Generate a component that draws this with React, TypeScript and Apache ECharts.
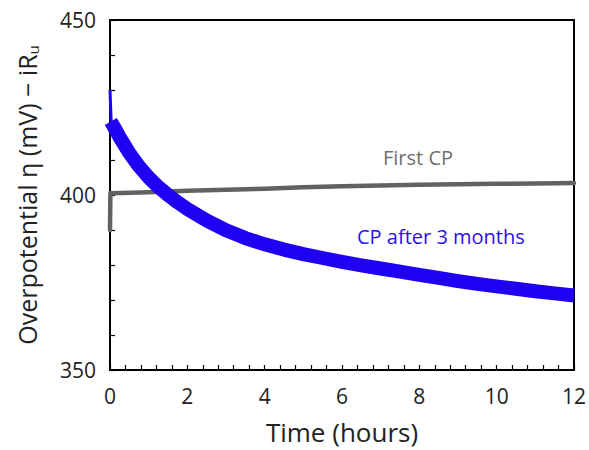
import React, { useEffect, useRef } from "react";
import * as echarts from "echarts";

const xTitle = "Time (hours)";
const yTitleMain = "Overpotential η (mV) − iR";
const yTitleSub = "u";

const firstCpTime = [0, 0.01, 0.3, 1, 2, 3, 4, 5, 6, 7, 8, 9, 10, 11, 12];
const firstCpValues = [390, 400.5, 400.6, 400.8, 401.2, 401.5, 401.8, 402.2, 402.5, 402.7, 402.9, 403.1, 403.2, 403.3, 403.4];

const spikeTime = [0, 0.03];
const spikeValues = [430, 421];

const afterTime = [0.02, 0.1, 0.25, 0.5, 0.75, 1, 1.25, 1.5, 1.75, 2, 2.5, 3, 3.5, 4, 4.5, 5, 5.5, 6, 6.5, 7, 7.5, 8, 8.5, 9, 9.5, 10, 10.5, 11, 11.5, 12];
const afterValues = [421, 419.5, 416.5, 412, 408.2, 405, 402.3, 400, 397.9, 396, 392.7, 389.9, 387.7, 385.9, 384.4, 383.1, 382, 380.9, 379.9, 379, 378.1, 377.2, 376.3, 375.4, 374.6, 373.9, 373.2, 372.5, 371.9, 371.3];

const seriesNames = ["First CP", "CP after 3 months"];
const seriesColors = ["#626262", "#1f00f2"];
const labelColors = ["#6f6f6f", "#2a10f0"];

const FONT = "'Open Sans', sans-serif";

export default function App() {
  const ref = useRef<HTMLDivElement>(null);
  useEffect(() => {
    if (!ref.current) return;
    const chart = echarts.init(ref.current, null, { renderer: "svg" });
    const isMultiple = (v: number, m: number) => Math.abs(v / m - Math.round(v / m)) < 1e-6;
    chart.setOption({
      animation: false,
      backgroundColor: "#ffffff",
      textStyle: { fontFamily: FONT },
      grid: {
        left: 110,
        top: 20,
        right: 15,
        bottom: 76,
        show: true,
        borderColor: "#000",
        borderWidth: 2,
        backgroundColor: "transparent",
      },
      xAxis: {
        type: "value",
        min: 0,
        max: 12,
        interval: 0.4,
        name: xTitle,
        nameLocation: "middle",
        nameGap: 49,
        nameTextStyle: { fontSize: 26, color: "#222", fontFamily: FONT },
        axisLine: { show: true, onZero: false, lineStyle: { color: "#000", width: 2 } },
        axisTick: { show: true, inside: true, length: 5, lineStyle: { color: "#000", width: 1.2 } },
        splitLine: { show: false },
        axisLabel: {
          color: "#222",
          fontSize: 21,
          margin: 15,
          fontFamily: FONT,
          showMinLabel: true,
          showMaxLabel: true,
          hideOverlap: false,
          formatter: (v: number) => (isMultiple(v, 2) ? String(Math.round(v)) : ""),
        },
      },
      yAxis: {
        type: "value",
        min: 350,
        max: 450,
        interval: 10,
        axisLine: { show: true, lineStyle: { color: "#000", width: 2 } },
        axisTick: { show: true, inside: true, length: 5, lineStyle: { color: "#000", width: 1.2 } },
        splitLine: { show: false },
        axisLabel: {
          color: "#222",
          fontSize: 21,
          margin: 14,
          fontFamily: FONT,
          formatter: (v: number) => (isMultiple(v, 50) ? String(Math.round(v)) : ""),
        },
      },
      series: [
        {
          name: seriesNames[0],
          type: "line",
          data: firstCpTime.map((t, i) => [t, firstCpValues[i]]),
          showSymbol: false,
          lineStyle: { color: seriesColors[0], width: 4.5, join: "round", cap: "round" },
          z: 2,
        },
        {
          name: seriesNames[1] + " start",
          type: "line",
          data: spikeTime.map((t, i) => [t, spikeValues[i]]),
          showSymbol: false,
          lineStyle: { color: seriesColors[1], width: 3 },
          z: 3,
        },
        {
          name: seriesNames[1],
          type: "line",
          data: afterTime.map((t, i) => [t, afterValues[i]]),
          showSymbol: false,
          lineStyle: { color: seriesColors[1], width: 14, join: "round", cap: "butt" },
          z: 3,
        },
      ],
      graphic: [
        {
          type: "text",
          x: 27,
          y: 195,
          rotation: Math.PI / 2,
          style: {
            text: `{m|${yTitleMain}}{s|${yTitleSub}}`,
            align: "center",
            verticalAlign: "middle",
            fill: "#222",
            font: `25px ${FONT}`,
            rich: {
              m: { fontSize: 25, fill: "#222", fontFamily: FONT },
              s: { fontSize: 15, fill: "#222", fontFamily: FONT, padding: [12, 0, 0, 0] },
            },
          },
        },
        {
          type: "text",
          left: 383,
          top: 147,
          style: { text: seriesNames[0], fill: labelColors[0], font: `20px ${FONT}` },
        },
        {
          type: "text",
          left: 357,
          top: 226,
          style: { text: seriesNames[1], fill: labelColors[1], font: `20px ${FONT}` },
        },
      ],
    });
    return () => chart.dispose();
  }, []);
  return <div ref={ref} style={{ position: "fixed", left: 0, top: 0, width: 589, height: 450 }} />;
}
